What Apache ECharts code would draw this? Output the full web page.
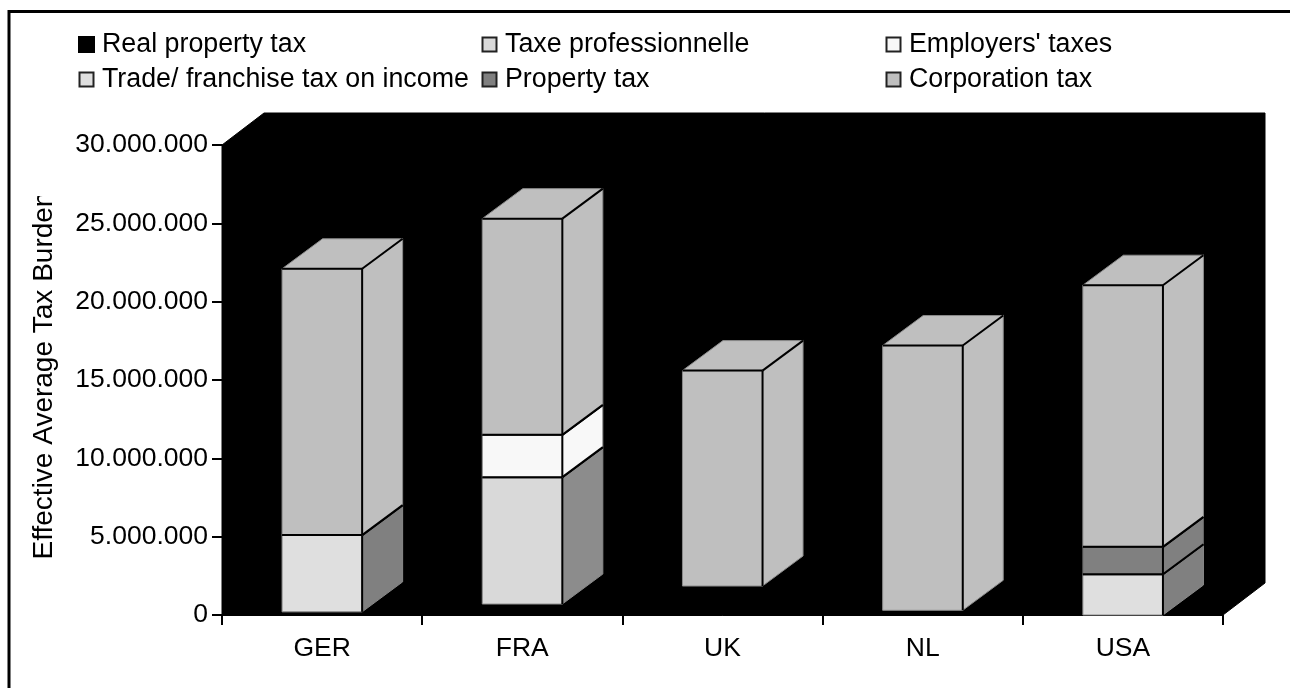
<!DOCTYPE html>
<html>
<head>
<meta charset="utf-8">
<style>html,body{margin:0;padding:0;background:#fff;overflow:hidden}#c{width:1290px;height:688px}</style>
<script src="https://cdn.jsdelivr.net/npm/echarts@6/dist/echarts.min.js"></script>
</head>
<body>
<div id="c"></div>
<script>
const categories = ['GER', 'FRA', 'UK', 'NL', 'USA'];
const realProperty = [200000, 700000, 1850000, 300000, 0];
const taxePro = [0, 8100000, 0, 0, 0];
const employers = [0, 2700000, 0, 0, 0];
const trade = [4900000, 0, 0, 0, 2600000];
const property = [0, 0, 0, 0, 1750000];
const corporation = [17000000, 13800000, 13750000, 16900000, 16700000];
const yTicks = [0, 5000000, 10000000, 15000000, 20000000, 25000000, 30000000];

const seriesDefs = [
  { name: 'Real property tax', values: realProperty, color: '#000000', side: '#000000', edge: '#000000' },
  { name: 'Taxe professionnelle', values: taxePro, color: '#d9d9d9', side: '#8c8c8c', edge: '#8a8a8a' },
  { name: "Employers' taxes", values: employers, color: '#f8f8f8', side: '#f8f8f8', edge: '#8a8a8a' },
  { name: 'Trade/ franchise tax on income', values: trade, color: '#dfdfdf', side: '#808080', edge: '#8a8a8a' },
  { name: 'Property tax', values: property, color: '#808080', side: '#808080', edge: '#666666' },
  { name: 'Corporation tax', values: corporation, color: '#bfbfbf', side: '#bfbfbf', edge: '#8a8a8a' }
];
const DX = 40.5, DY = -30, WALL_DX = 42, WALL_DY = -32, BAR_RATIO = 0.4;

const totals = categories.map((_, i) => seriesDefs.reduce((s, d) => s + d.values[i], 0));

function boxItem(def) {
  return function (params, api) {
    const i = api.value(0), lo = api.value(1), hi = api.value(2);
    const band = api.size([1, 0])[0];
    const w = band * BAR_RATIO;
    const cx = api.coord([i, 0])[0];
    const x0 = cx - w / 2, x1 = cx + w / 2;
    const yb = api.coord([i, lo])[1], yt = api.coord([i, hi])[1];
    const edge = { stroke: def.edge, lineWidth: 1 };
    const line = (a, b, c, d) => ({
      type: 'line', shape: { x1: a, y1: b, x2: c, y2: d },
      style: { stroke: '#000', lineWidth: 2 }
    });
    const kids = [
      { type: 'polygon', shape: { points: [[x1, yt], [x1 + DX, yt + DY], [x1 + DX, yb + DY], [x1, yb]] },
        style: Object.assign({ fill: def.side }, edge) },
      { type: 'rect', shape: { x: x0, y: yt, width: w, height: yb - yt },
        style: Object.assign({ fill: def.color }, edge) }
    ];
    if (hi >= totals[i]) {
      kids.push({ type: 'polygon', shape: { points: [[x0, yt], [x0 + DX, yt + DY], [x1 + DX, yt + DY], [x1, yt]] },
        style: Object.assign({ fill: def.color }, edge) });
    }
    kids.push(line(x1, yb, x1, yt), line(x0, yt, x1, yt), line(x1, yt, x1 + DX, yt + DY));
    if (lo > realProperty[i]) {
      kids.push(line(x0, yb, x1, yb), line(x1, yb, x1 + DX, yb + DY));
    }
    return { type: 'group', children: kids };
  };
}

const cumulative = categories.map(() => 0);
const boxSeries = seriesDefs.map(def => {
  const data = [];
  def.values.forEach((v, i) => {
    if (v > 0) data.push([i, cumulative[i], cumulative[i] + v]);
    cumulative[i] += v;
  });
  return {
    type: 'custom', name: def.name, z: 5, data,
    encode: { x: 0, y: [1, 2] },
    itemStyle: { color: def.color },
    renderItem: boxItem(def), clip: false
  };
});

const wallSeries = {
  type: 'custom', name: 'wall', z: 1, silent: true, clip: false,
  data: [[0, 0]],
  renderItem: function (params, api) {
    const band = api.size([1, 0])[0];
    const l = api.coord([0, 0])[0] - band / 2;
    const r = api.coord([categories.length - 1, 0])[0] + band / 2;
    const b = api.coord([0, 0])[1], t = api.coord([0, yTicks[yTicks.length - 1]])[1];
    return {
      type: 'polygon',
      shape: { points: [[l, t], [l + WALL_DX, t + WALL_DY], [r + WALL_DX, t + WALL_DY],
                        [r + WALL_DX, b + WALL_DY], [r, b], [l, b]] },
      style: { fill: '#000', stroke: '#000', lineWidth: 1 }
    };
  }
};

function legendItem(def) {
  return def.color === '#000000'
    ? { name: def.name, icon: 'rect', itemStyle: { color: '#000', borderColor: '#000', borderWidth: 0 } }
    : { name: def.name, icon: 'path://M0 0M17 17M1.5 1.5L15.5 1.5L15.5 15.5L1.5 15.5Z',
        itemStyle: { color: def.color, borderColor: '#222', borderWidth: 2 } };
}
const font = 'Liberation Sans';
function legendCol(left, ids) {
  return {
    left, top: 31, padding: 0, orient: 'vertical', itemWidth: 17, itemHeight: 17, itemGap: 8,
    selectedMode: false,
    textStyle: { fontFamily: font, fontSize: 26.8, color: '#000', padding: [0, 0, 0, 2], lineHeight: 17 },
    data: ids.map(k => legendItem(seriesDefs[k]))
  };
}

const chart = echarts.init(document.getElementById('c'), null, { renderer: 'canvas' });
chart.setOption({
  animation: false,
  backgroundColor: '#fff',
  legend: [legendCol(77, [0, 3]), legendCol(480, [1, 4]), legendCol(884, [2, 5])],
  grid: { left: 222, right: 67, top: 145, height: 470 },
  xAxis: {
    type: 'category', data: categories,
    axisLine: { show: true, lineStyle: { color: '#000', width: 1 } },
    axisTick: { show: true, length: 10, alignWithLabel: false, lineStyle: { color: '#000', width: 2 } },
    axisLabel: { fontFamily: font, fontSize: 26.5, color: '#000', margin: 20 },
    splitLine: { show: false }
  },
  yAxis: {
    type: 'value', min: 0, max: 30000000, interval: 5000000,
    name: 'Effective Average Tax Burden', nameLocation: 'middle', nameGap: 164,
    nameTextStyle: { fontFamily: font, fontSize: 28, color: '#000', padding: [0, 0, 0, 9] },
    axisLine: { show: true, lineStyle: { color: '#000', width: 1 } },
    axisTick: { show: true, length: 10, lineStyle: { color: '#000', width: 2 } },
    axisLabel: {
      fontFamily: font, fontSize: 26.5, color: '#000', margin: 14,
      formatter: v => String(v).replace(/\B(?=(\d{3})+$)/g, '.')
    },
    splitLine: { show: false }
  },
  series: [wallSeries].concat(boxSeries),
  graphic: [
    { type: 'rect', z: 100, shape: { x: 25, y: 150, width: 34, height: 46 }, style: { fill: '#fff' } },
    { type: 'polyline', z: 100, shape: { points: [[9, 688], [9, 11.5], [1290, 11.5]] },
      style: { stroke: '#000', lineWidth: 3, fill: null } }
  ]
});
</script>
</body>
</html>
